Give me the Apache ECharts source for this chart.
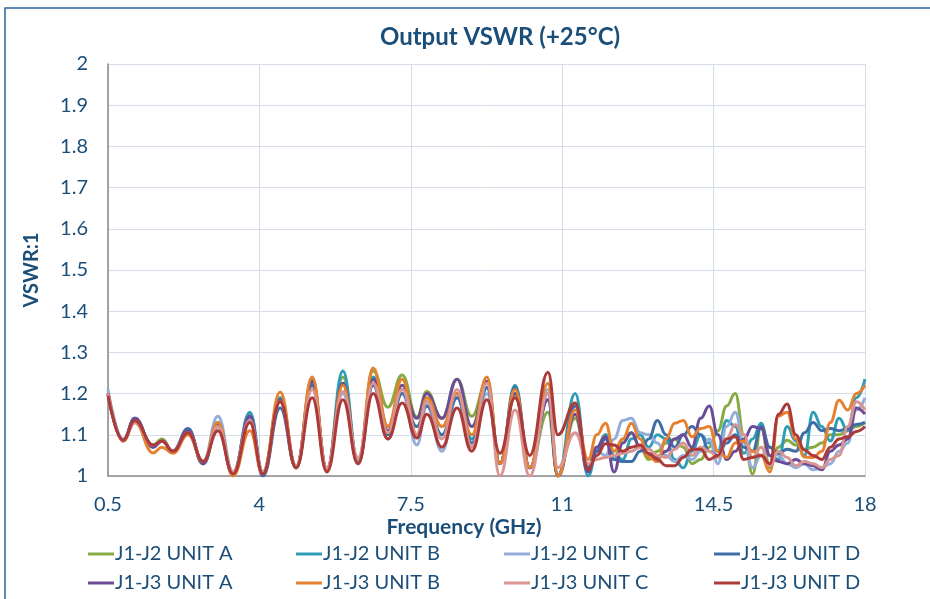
<!DOCTYPE html>
<html><head><meta charset="utf-8">
<script src="https://cdn.jsdelivr.net/npm/echarts@6/dist/echarts.min.js"></script>
<style>html,body{margin:0;padding:0;background:#fff}#c{width:930px;height:599px}</style>
</head><body><div id="c"></div>
<script>
var freq = [0.5,0.85,1.12,1.54,1.75,2.0,2.35,2.7,3.04,3.39,3.78,4.08,4.48,4.85,5.22,5.56,5.93,6.28,6.63,6.97,7.30,7.64,7.87,8.22,8.57,8.91,9.26,9.56,9.91,10.25,10.67,10.9,11.3,
  11.6,11.8,12.0,12.2,12.4,12.6,12.8,13.0,13.2,13.4,13.6,13.8,14.0,14.2,14.4,14.6,14.8,15.0,15.2,15.4,15.6,15.8,16.0,16.2,16.4,16.6,16.8,17.0,17.2,17.4,17.6,17.8,18.0];

var j12A = [1.2,1.087,1.135,1.075,1.09,1.06,1.11,1.03,1.13,1.005,1.15,1.01,1.19,1.02,1.235,1.015,1.24,1.035,1.255,1.167,1.245,1.143,1.205,1.14,1.235,1.145,1.23,1.03,1.2,1.02,1.155,1.0,1.14,
  1.02,1.07,1.1,1.04,1.09,1.105,1.07,1.04,1.06,1.08,1.09,1.07,1.03,1.04,1.07,1.11,1.17,1.2,1.1,1.005,1.12,1.02,1.07,1.087,1.075,1.065,1.07,1.08,1.1,1.1,1.11,1.12,1.13];
var j12B = [1.2,1.087,1.135,1.075,1.085,1.06,1.11,1.03,1.125,1.005,1.155,1.005,1.19,1.02,1.225,1.015,1.255,1.035,1.24,1.12,1.21,1.1,1.18,1.1,1.2,1.09,1.215,1.03,1.22,1.02,1.2,1.0,1.2,
  1.0,1.06,1.1,1.05,1.04,1.09,1.1,1.07,1.1,1.09,1.04,1.02,1.06,1.1,1.08,1.06,1.135,1.12,1.055,1.09,1.128,1.05,1.04,1.12,1.085,1.05,1.155,1.12,1.085,1.14,1.11,1.19,1.235];
var j12C = [1.21,1.09,1.13,1.075,1.085,1.06,1.11,1.035,1.145,1.01,1.14,1.01,1.18,1.025,1.22,1.02,1.2,1.035,1.22,1.09,1.2,1.075,1.17,1.06,1.19,1.07,1.2,1.03,1.2,1.02,1.21,1.0,1.15,
  1.02,1.06,1.05,1.09,1.135,1.14,1.105,1.1,1.08,1.05,1.035,1.05,1.04,1.06,1.09,1.03,1.12,1.155,1.08,1.02,1.05,1.07,1.05,1.03,1.02,1.03,1.015,1.02,1.03,1.06,1.08,1.16,1.19];
var j12D = [1.2,1.087,1.14,1.07,1.085,1.06,1.115,1.03,1.12,1.005,1.145,1.0,1.165,1.02,1.22,1.015,1.225,1.03,1.22,1.1,1.2,1.12,1.17,1.1,1.19,1.08,1.215,1.03,1.215,1.02,1.185,1.0,1.17,
  1.02,1.06,1.09,1.04,1.035,1.035,1.06,1.09,1.135,1.1,1.07,1.1,1.12,1.1,1.06,1.05,1.08,1.1,1.07,1.06,1.12,1.07,1.055,1.065,1.06,1.105,1.13,1.11,1.115,1.11,1.115,1.125,1.13];
var j13A = [1.2,1.085,1.14,1.07,1.085,1.06,1.11,1.03,1.125,1.005,1.145,1.005,1.185,1.02,1.23,1.015,1.225,1.03,1.235,1.11,1.22,1.14,1.2,1.14,1.235,1.12,1.23,1.03,1.2,1.02,1.185,1.0,1.15,
  1.01,1.07,1.095,1.01,1.08,1.105,1.07,1.05,1.045,1.06,1.09,1.1,1.07,1.14,1.17,1.1,1.04,1.06,1.09,1.12,1.115,1.05,1.035,1.03,1.04,1.03,1.025,1.015,1.06,1.075,1.09,1.165,1.15];
var j13B = [1.2,1.085,1.13,1.056,1.07,1.055,1.1,1.035,1.13,1.0,1.11,1.005,1.204,1.02,1.24,1.015,1.22,1.03,1.262,1.12,1.235,1.1,1.19,1.12,1.2,1.1,1.24,1.03,1.21,1.02,1.225,1.0,1.16,
  1.04,1.1,1.128,1.06,1.09,1.128,1.09,1.046,1.035,1.09,1.128,1.135,1.095,1.115,1.12,1.06,1.045,1.08,1.085,1.06,1.05,1.01,1.145,1.155,1.09,1.046,1.045,1.06,1.13,1.184,1.16,1.2,1.22];
var j13C = [1.2,1.087,1.13,1.075,1.085,1.06,1.105,1.035,1.12,1.01,1.135,1.01,1.18,1.025,1.21,1.02,1.205,1.045,1.225,1.105,1.21,1.1,1.18,1.09,1.21,1.07,1.225,1.0,1.16,1.0,1.2,1.02,1.105,
  1.03,1.04,1.045,1.05,1.055,1.06,1.07,1.065,1.05,1.045,1.065,1.08,1.05,1.07,1.06,1.045,1.09,1.125,1.1,1.045,1.07,1.025,1.06,1.045,1.025,1.035,1.03,1.02,1.04,1.05,1.12,1.18,1.16];
var j13D = [1.195,1.087,1.135,1.075,1.085,1.06,1.105,1.035,1.11,1.005,1.13,1.005,1.18,1.02,1.19,1.01,1.185,1.03,1.2,1.09,1.177,1.092,1.15,1.07,1.165,1.06,1.185,1.055,1.19,1.05,1.252,1.1,1.177,
  1.015,1.05,1.078,1.075,1.06,1.07,1.075,1.055,1.04,1.025,1.025,1.045,1.065,1.065,1.04,1.05,1.09,1.095,1.04,1.045,1.05,1.03,1.15,1.175,1.1,1.063,1.05,1.04,1.07,1.09,1.095,1.108,1.12];

var names = ['J1-J2 UNIT A','J1-J2 UNIT B','J1-J2 UNIT C','J1-J2 UNIT D','J1-J3 UNIT A','J1-J3 UNIT B','J1-J3 UNIT C','J1-J3 UNIT D'];
var values = [j12A,j12B,j12C,j12D,j13A,j13B,j13C,j13D];
var colors = ['#86ab44','#2e9db6','#93acd9','#3e6ea8','#6b4c96','#e5812f','#d99592','#ab3a38'];

var TXT = '#1b4e78';
var FONT = 'Lato';

var series = names.map(function(n,i){
  return {
    name: n, type: 'line', showSymbol: false, symbol: 'none',
    smooth: 0.45, smoothMonotone: 'x',
    lineStyle: {width: 3, color: colors[i]}, itemStyle: {color: colors[i]},
    data: freq.map(function(f,k){ return [f, values[i][k]]; })
  };
});

var legends = [0,1,2,3].map(function(c){
  var lefts = [88, 296, 504, 714];
  return {
    orient: 'vertical', left: lefts[c], top: 542, itemGap: 5, padding: 0, height: 56,
    icon: 'rect', itemWidth: 26, itemHeight: 3,
    data: [names[c], names[c+4]],
    textStyle: {color: TXT, fontSize: 20, fontFamily: FONT, padding: [0,0,0,-4], lineHeight: 24}
  };
});

var chart = echarts.init(document.getElementById('c'), null, {renderer: 'canvas'});
chart.setOption({
  animation: false,
  backgroundColor: '#fff',
  textStyle: {fontFamily: FONT},
  grid: {left: 108, right: 65, top: 64, bottom: 123, containLabel: false},
  legend: legends,
  graphic: [
    {type: 'rect', shape: {x: 5, y: 8, width: 960, height: 640}, style: {fill: 'none', stroke: '#2a6396', lineWidth: 1.5}, silent: true},
    {type: 'text', style: {text: 'Output VSWR (+25°C)', x: 500, y: 37, textAlign: 'center', textVerticalAlign: 'middle', fill: TXT, font: 'bold 24px Lato'}},
    {type: 'text', style: {text: 'Frequency (GHz)', x: 464, y: 527, textAlign: 'center', textVerticalAlign: 'middle', fill: TXT, font: 'bold 21px Lato'}}
  ],
  xAxis: {
    type: 'value', min: 0.5, max: 18, interval: 3.5,
    axisLine: {show: true, lineStyle: {color: '#898989', width: 1.5}},
    axisTick: {show: false},
    splitLine: {show: true, lineStyle: {color: '#d5dee8', width: 1}},
    axisLabel: {color: TXT, fontSize: 20, fontFamily: FONT, margin: 19}
  },
  yAxis: {
    type: 'value', min: 1, max: 2, interval: 0.1,
    name: 'VSWR:1', nameLocation: 'middle', nameGap: 66, nameRotate: 90,
    nameTextStyle: {color: TXT, fontSize: 20, fontWeight: 'bold', fontFamily: FONT},
    axisLine: {show: true, lineStyle: {color: '#898989', width: 1.5}},
    axisTick: {show: false},
    splitLine: {show: true, lineStyle: {color: '#d5dee8', width: 1}},
    axisLabel: {color: TXT, fontSize: 20, fontFamily: FONT, margin: 20}
  },
  series: series
});
</script></body></html>
